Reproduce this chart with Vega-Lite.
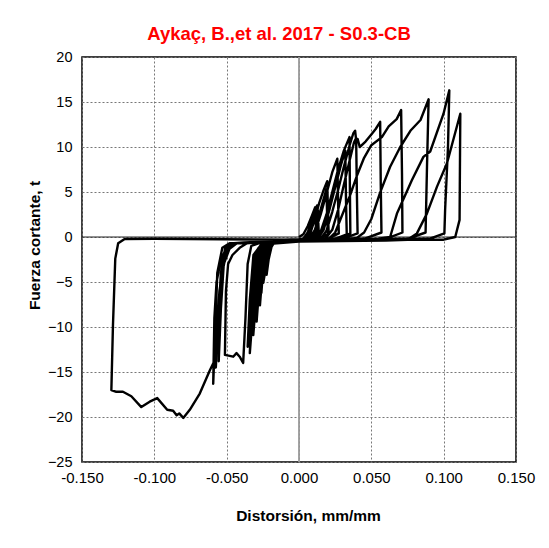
{
  "$schema": "https://vega.github.io/schema/vega-lite/v6.json",
  "width": 434,
  "height": 405,
  "autosize": {"type": "none"},
  "padding": {"left": 82, "top": 57, "right": 33, "bottom": 86},
  "background": "white",
  "config": {
    "font": "Liberation Sans",
    "view": {"stroke": "#000000", "strokeWidth": 1.5},
    "axis": {"labelFont": "Liberation Sans", "titleFont": "Liberation Sans"}
  },
  "title": {
    "text": "Aykaç, B.,et al. 2017 - S0.3-CB",
    "color": "#FF0000",
    "fontSize": 18.5,
    "fontWeight": "bold",
    "font": "Liberation Sans",
    "anchor": "middle",
    "dx": -20,
    "offset": 6
  },
  "layer": [
    {
      "data": {"values": [{"v": 0}]},
      "mark": {"type": "rule", "color": "#999999", "strokeWidth": 1.8},
      "encoding": {"x": {"field": "v", "type": "quantitative", "scale": {"domain": [-0.15, 0.15], "nice": false}}}
    },
    {
      "data": {"values": [{"v": 0}]},
      "mark": {"type": "rule", "color": "#222222", "strokeWidth": 1},
      "encoding": {"y": {"field": "v", "type": "quantitative", "scale": {"domain": [-25, 20], "nice": false}}}
    },
    {
      "data": {"values": [
        {"x":0,"y":0},{"x":0.003,"y":0.3},{"x":0.006,"y":1.2},{"x":0.009,"y":2.4},{"x":0.0112,"y":3.3},{"x":0.0116,"y":1.5},{"x":0.0118,"y":0.3},{"x":0.008,"y":-0.15},{"x":0,"y":-0.25},{"x":-0.01,"y":-0.3},{"x":-0.016,"y":-0.35},{"x":-0.019,"y":-1.1},{"x":-0.021,"y":-2.5},{"x":-0.0224,"y":-4.2},{"x":-0.0218,"y":-2},{"x":-0.02,"y":-0.8},{"x":-0.016,"y":-0.5},{"x":-0.008,"y":-0.5},{"x":0,"y":-0.4},
        {"x":0.003,"y":-0.2},{"x":0.006,"y":0.5},{"x":0.009,"y":1.8},{"x":0.011,"y":2.8},{"x":0.0125,"y":3.5},{"x":0.013,"y":1.5},{"x":0.0132,"y":0.3},{"x":0.008,"y":-0.2},{"x":0,"y":-0.3},{"x":-0.012,"y":-0.4},{"x":-0.018,"y":-0.5},{"x":-0.0205,"y":-1.4},{"x":-0.0225,"y":-3},{"x":-0.0247,"y":-5.1},{"x":-0.0238,"y":-2.5},{"x":-0.022,"y":-0.9},{"x":-0.018,"y":-0.6},{"x":0,"y":-0.4},
        {"x":0.004,"y":-0.2},{"x":0.008,"y":0.8},{"x":0.011,"y":2.2},{"x":0.013,"y":3.0},{"x":0.0135,"y":1},{"x":0.0138,"y":0.2},{"x":0.005,"y":-0.25},{"x":-0.014,"y":-0.45},{"x":-0.019,"y":-0.7},{"x":-0.0215,"y":-2},{"x":-0.0235,"y":-3.8},{"x":-0.0228,"y":-1.5},{"x":-0.02,"y":-0.7},{"x":0,"y":-0.45},
        {"x":0.005,"y":-0.2},{"x":0.008,"y":0.5},{"x":0.011,"y":2},{"x":0.014,"y":3.8},{"x":0.017,"y":5.2},{"x":0.0195,"y":6.2},{"x":0.02,"y":3},{"x":0.0205,"y":0.4},{"x":0.015,"y":-0.2},{"x":0,"y":-0.35},{"x":-0.015,"y":-0.45},{"x":-0.02,"y":-0.6},{"x":-0.023,"y":-1.5},{"x":-0.025,"y":-3.5},{"x":-0.027,"y":-7.6},{"x":-0.0262,"y":-4},{"x":-0.024,"y":-1.2},{"x":-0.02,"y":-0.7},{"x":0,"y":-0.45},
        {"x":0.007,"y":-0.2},{"x":0.011,"y":0.8},{"x":0.014,"y":2.5},{"x":0.017,"y":4.2},{"x":0.019,"y":5.3},{"x":0.0195,"y":2},{"x":0.02,"y":0.3},{"x":0.012,"y":-0.2},{"x":-0.016,"y":-0.5},{"x":-0.021,"y":-0.8},{"x":-0.0235,"y":-2.2},{"x":-0.025,"y":-4},{"x":-0.026,"y":-6.2},{"x":-0.0252,"y":-3},{"x":-0.023,"y":-1},{"x":-0.019,"y":-0.6},{"x":0,"y":-0.45},
        {"x":0.008,"y":-0.2},{"x":0.011,"y":0.5},{"x":0.015,"y":2.5},{"x":0.019,"y":4.8},{"x":0.023,"y":7.2},{"x":0.0265,"y":8.7},{"x":0.027,"y":4},{"x":0.0275,"y":0.4},{"x":0.02,"y":-0.2},{"x":0,"y":-0.35},{"x":-0.018,"y":-0.5},{"x":-0.022,"y":-0.7},{"x":-0.025,"y":-2},{"x":-0.027,"y":-4.5},{"x":-0.0293,"y":-9.4},{"x":-0.028,"y":-5},{"x":-0.026,"y":-1.5},{"x":-0.021,"y":-0.7},{"x":0,"y":-0.5},
        {"x":0.011,"y":-0.2},{"x":0.015,"y":0.6},{"x":0.019,"y":2.5},{"x":0.023,"y":5},{"x":0.027,"y":7.5},{"x":0.031,"y":9.6},{"x":0.0349,"y":11.1},{"x":0.0352,"y":5},{"x":0.0355,"y":0.4},{"x":0.028,"y":-0.2},{"x":0,"y":-0.35},{"x":-0.02,"y":-0.55},{"x":-0.024,"y":-0.8},{"x":-0.027,"y":-2.5},{"x":-0.029,"y":-5.5},{"x":-0.0316,"y":-10.9},{"x":-0.0302,"y":-6},{"x":-0.028,"y":-1.8},{"x":-0.023,"y":-0.7},{"x":0,"y":-0.5},
        {"x":0.013,"y":-0.2},{"x":0.017,"y":0.8},{"x":0.021,"y":3},{"x":0.025,"y":5.5},{"x":0.029,"y":8},{"x":0.032,"y":9.6},{"x":0.0325,"y":4},{"x":0.033,"y":0.3},{"x":0.025,"y":-0.2},{"x":-0.021,"y":-0.6},{"x":-0.025,"y":-1},{"x":-0.028,"y":-3},{"x":-0.03,"y":-6.5},{"x":-0.031,"y":-9},{"x":-0.0298,"y":-5},{"x":-0.027,"y":-1.5},{"x":-0.022,"y":-0.7},{"x":0,"y":-0.5},
        {"x":0.015,"y":-0.2},{"x":0.019,"y":0.7},{"x":0.023,"y":2.8},{"x":0.027,"y":5.2},{"x":0.031,"y":7.8},{"x":0.035,"y":10.2},{"x":0.0375,"y":11.5},{"x":0.0388,"y":11.8},{"x":0.0395,"y":10.8},{"x":0.0405,"y":10.9},{"x":0.042,"y":10.0},{"x":0.046,"y":10.6},{"x":0.05,"y":11.4},{"x":0.053,"y":12},{"x":0.0561,"y":12.8},{"x":0.0565,"y":6},{"x":0.057,"y":0.5},{"x":0.045,"y":-0.2},{"x":0,"y":-0.4},{"x":-0.022,"y":-0.6},{"x":-0.026,"y":-1},{"x":-0.029,"y":-3},{"x":-0.031,"y":-6.5},{"x":-0.034,"y":-12.9},{"x":-0.0325,"y":-7},{"x":-0.03,"y":-2},{"x":-0.024,"y":-0.8},{"x":0,"y":-0.5},
        {"x":0.018,"y":-0.25},{"x":0.023,"y":0.8},{"x":0.027,"y":3},{"x":0.031,"y":5.8},{"x":0.035,"y":8.5},{"x":0.038,"y":10.5},{"x":0.0395,"y":11.0},{"x":0.04,"y":5},{"x":0.0405,"y":0.4},{"x":0.03,"y":-0.2},{"x":-0.024,"y":-0.65},{"x":-0.028,"y":-1.2},{"x":-0.031,"y":-4},{"x":-0.033,"y":-8},{"x":-0.0355,"y":-12.2},{"x":-0.034,"y":-7},{"x":-0.0315,"y":-2},{"x":-0.026,"y":-0.8},{"x":0,"y":-0.5},
        {"x":0.02,"y":-0.3},{"x":0.025,"y":0.5},{"x":0.03,"y":2.5},{"x":0.035,"y":4.5},{"x":0.04,"y":6.8},{"x":0.045,"y":8.8},{"x":0.05,"y":10.2},{"x":0.0573,"y":11.1},{"x":0.062,"y":12.3},{"x":0.0675,"y":13.1},{"x":0.0706,"y":14.1},{"x":0.0712,"y":7},{"x":0.0715,"y":0.5},{"x":0.06,"y":-0.2},{"x":0,"y":-0.4},{"x":-0.03,"y":-0.6},{"x":-0.036,"y":-0.7},{"x":-0.041,"y":-1.2},{"x":-0.046,"y":-2},{"x":-0.049,"y":-3},{"x":-0.0505,"y":-6},{"x":-0.0512,"y":-13.1},{"x":-0.0455,"y":-13.3},{"x":-0.0432,"y":-12.9},{"x":-0.041,"y":-13.3},{"x":-0.0386,"y":-14.0},{"x":-0.037,"y":-9},{"x":-0.0355,"y":-3},{"x":-0.033,"y":-1},{"x":-0.028,"y":-0.7},{"x":0,"y":-0.5},
        {"x":0.03,"y":-0.3},{"x":0.04,"y":-0.1},{"x":0.045,"y":0.5},{"x":0.05,"y":2},{"x":0.056,"y":4.9},{"x":0.063,"y":7.8},{"x":0.07,"y":10},{"x":0.077,"y":11.8},{"x":0.084,"y":13},{"x":0.0896,"y":15.3},{"x":0.0885,"y":8},{"x":0.0875,"y":0.5},{"x":0.075,"y":-0.2},{"x":0,"y":-0.4},{"x":-0.035,"y":-0.6},{"x":-0.043,"y":-0.7},{"x":-0.048,"y":-1.3},{"x":-0.052,"y":-3},{"x":-0.055,"y":-6},{"x":-0.0565,"y":-10},{"x":-0.0575,"y":-14.5},{"x":-0.056,"y":-10},{"x":-0.054,"y":-4},{"x":-0.051,"y":-1.2},{"x":-0.047,"y":-0.7},{"x":-0.05,"y":-1.5},{"x":-0.053,"y":-4},{"x":-0.0545,"y":-9},{"x":-0.0555,"y":-13.8},{"x":-0.054,"y":-8},{"x":-0.052,"y":-3},{"x":-0.049,"y":-1},{"x":-0.045,"y":-0.7},{"x":0,"y":-0.5},
        {"x":0.045,"y":-0.3},{"x":0.055,"y":-0.2},{"x":0.063,"y":0},{"x":0.0677,"y":2.6},{"x":0.073,"y":4.5},{"x":0.078,"y":6.3},{"x":0.086,"y":8.9},{"x":0.0907,"y":9.5},{"x":0.0999,"y":13.7},{"x":0.1039,"y":16.3},{"x":0.103,"y":10},{"x":0.101,"y":3},{"x":0.1005,"y":0.4},{"x":0.09,"y":-0.2},{"x":0,"y":-0.4},{"x":-0.038,"y":-0.6},{"x":-0.045,"y":-0.7},{"x":-0.05,"y":-1.2},{"x":-0.054,"y":-2.5},{"x":-0.057,"y":-5},{"x":-0.0585,"y":-9},{"x":-0.0593,"y":-16.3},{"x":-0.058,"y":-11},{"x":-0.0565,"y":-4},{"x":-0.053,"y":-1.2},{"x":-0.048,"y":-0.7},{"x":0,"y":-0.5},
        {"x":0.06,"y":-0.4},{"x":0.075,"y":-0.3},{"x":0.0815,"y":0.4},{"x":0.0884,"y":2.6},{"x":0.0954,"y":5.6},{"x":0.1023,"y":8.2},{"x":0.1115,"y":13.7},{"x":0.111,"y":1.9},{"x":0.108,"y":0},{"x":0.1,"y":-0.3},{"x":0,"y":-0.3},{"x":-0.1,"y":-0.2},{"x":-0.1205,"y":-0.22},{"x":-0.125,"y":-0.7},{"x":-0.127,"y":-2.4},{"x":-0.1286,"y":-9.8},{"x":-0.1297,"y":-17.0},{"x":-0.1263,"y":-17.2},{"x":-0.1217,"y":-17.2},{"x":-0.1159,"y":-17.7},{"x":-0.109,"y":-18.9},{"x":-0.1032,"y":-18.3},{"x":-0.098,"y":-17.9},{"x":-0.0911,"y":-19.2},{"x":-0.087,"y":-19.3},{"x":-0.0846,"y":-19.8},{"x":-0.0828,"y":-19.6},{"x":-0.08,"y":-20.1},{"x":-0.0755,"y":-19.2},{"x":-0.0686,"y":-17.4},{"x":-0.0616,"y":-14.8},{"x":-0.058,"y":-13.6}
      ]},
      "transform": [{"window": [{"op": "row_number", "as": "idx"}]}],
      "mark": {"type": "line", "color": "#000000", "strokeWidth": 2.4, "strokeJoin": "round"},
      "encoding": {
        "x": {
          "field": "x", "type": "quantitative",
          "scale": {"domain": [-0.15, 0.15], "nice": false},
          "axis": {
            "values": [-0.15, -0.1, -0.05, 0, 0.05, 0.1, 0.15],
            "labelExpr": "replace(format(datum.value, '.3f'), '\u2212', '-')",
            "labelFontSize": 15, "labelColor": "#000000", "labelPadding": 8, "labelFlush": false,
            "ticks": false, "domain": false,
            "grid": true, "gridColor": "#777777", "gridDash": [2, 2], "gridWidth": 1,
            "title": "Distorsión, mm/mm", "titleFontSize": 15.5, "titleFontWeight": "bold", "titleColor": "#000000",
            "titleX": 226, "titleY": 46
          }
        },
        "y": {
          "field": "y", "type": "quantitative",
          "scale": {"domain": [-25, 20], "nice": false},
          "axis": {
            "values": [-25, -20, -15, -10, -5, 0, 5, 10, 15, 20],
            "labelFontSize": 14.5, "labelColor": "#000000", "labelPadding": 10, "labelFlush": false,
            "ticks": false, "domain": false,
            "grid": true, "gridColor": "#777777", "gridDash": [2, 2], "gridWidth": 1,
            "title": "Fuerza cortante, t", "titleFontSize": 15.5, "titleFontWeight": "bold", "titleColor": "#000000",
            "titleX": -40, "titleY": 188
          }
        },
        "order": {"field": "idx", "type": "quantitative"}
      }
    }
  ]
}
